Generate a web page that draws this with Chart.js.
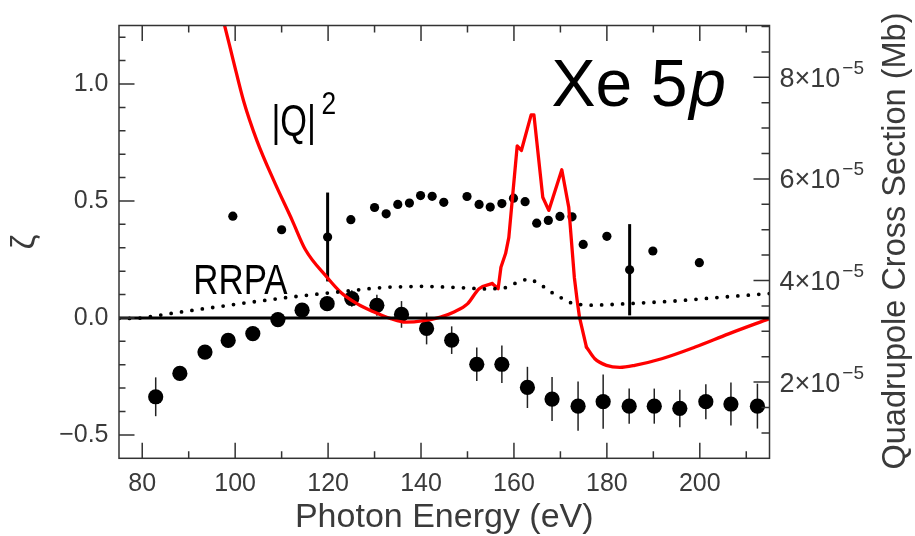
<!DOCTYPE html>
<html>
<head>
<meta charset="utf-8">
<script src="https://cdn.jsdelivr.net/npm/chart.js@4.4.1/dist/chart.umd.min.js"></script>
<style>
  html, body { margin: 0; padding: 0; background: #fff; }
  canvas { display: block; }
</style>
</head>
<body>
<canvas id="chart" width="915" height="536"></canvas>
<script>
// measured zeta (large dots), photon energy in eV
const zetaE   = [82.9, 88.1, 93.5, 98.5, 103.8, 109.2, 114.4, 119.8, 125.1, 130.5, 135.8, 141.2, 146.6,
                 152.0, 157.4, 162.9, 168.2, 173.8, 179.2, 184.8, 190.2, 195.7, 201.3, 206.7, 212.4];
const zetaVal = [-0.337, -0.237, -0.146, -0.096, -0.067, -0.007, 0.033, 0.061, 0.083, 0.054, 0.015, -0.045, -0.095,
                 -0.198, -0.198, -0.297, -0.347, -0.377, -0.358, -0.377, -0.377, -0.387, -0.358, -0.368, -0.377];
const zetaErr = [0.083, 0.03, 0.03, 0.03, 0.03, 0.03, 0.03, 0.03, 0.035, 0.045, 0.057, 0.068, 0.059,
                 0.072, 0.08, 0.088, 0.094, 0.105, 0.116, 0.075, 0.075, 0.08, 0.075, 0.092, 0.096];

// second data set (small dots), two of them with error bars
const smallE   = [99.5, 110.0, 119.9, 124.9, 130.0, 132.5, 135.0, 137.5, 139.9, 142.4, 144.9, 149.9, 152.5,
                  154.9, 157.4, 159.9, 162.4, 164.9, 167.4, 169.9, 172.5, 174.9, 180.0, 184.9, 189.9, 199.9];
const smallVal = [0.435, 0.377, 0.346, 0.420, 0.472, 0.445, 0.485, 0.491, 0.523, 0.520, 0.494, 0.519, 0.485,
                  0.474, 0.489, 0.512, 0.497, 0.405, 0.417, 0.434, 0.432, 0.314, 0.349, 0.206, 0.286, 0.236];
const smallErr = [0, 0, 0.19, 0, 0, 0, 0, 0, 0, 0, 0, 0, 0,
                  0, 0, 0, 0, 0, 0, 0, 0, 0, 0, 0.195, 0, 0];

// RRPA theory (dotted)
const rrpaE   = [75, 78, 80, 84.2, 88.5, 92.8, 97.5, 102, 106.5, 111, 115.5, 119.8, 124.1, 128.8, 133.3, 140,
                 144.3, 149, 153.3, 155.7, 158, 161.2, 163.2, 165.2, 168.7, 172.8, 177.2, 181.7, 188.5, 195.2,
                 201.8, 208.7, 215];
const rrpaVal = [-0.002, -0.002, 0.0, 0.013, 0.026, 0.038, 0.051, 0.064, 0.075, 0.087, 0.097, 0.106, 0.115, 0.125,
                 0.132, 0.135, 0.133, 0.129, 0.124, 0.125, 0.128, 0.156, 0.168, 0.15, 0.101, 0.059, 0.054, 0.058,
                 0.065, 0.073, 0.084, 0.095, 0.104];

// |Q|^2 quadrupole cross section, units of 1e-5 Mb (right axis)
const qE   = [96.6, 97.7, 99.6, 101.8, 104.7, 108.3, 112.3, 115.1, 119.8, 122.7, 126.3, 129.9, 133.5, 136.7,
              140.6, 144.2, 147.1, 150.0, 152.5, 155.3, 156.6, 157.2, 158.2, 158.9, 160.7, 161.6, 163.7, 164.3,
              166.2, 167.5, 170.3, 171.8, 173.0, 173.6, 174.1, 175.6, 177.4, 179.9, 182.8, 186.0, 191.8, 199.0,
              206.2, 215];
const qVal = [9.41, 9.03, 8.33, 7.54, 6.75, 5.97, 5.18, 4.61, 4.06, 3.77, 3.54, 3.38, 3.25, 3.18,
              3.21, 3.28, 3.38, 3.54, 3.84, 3.94, 3.84, 4.26, 4.53, 4.85, 6.65, 6.56, 7.26, 7.26,
              5.64, 5.38, 6.18, 5.44, 4.06, 3.61, 3.28, 2.69, 2.46, 2.33, 2.29, 2.33, 2.46, 2.69,
              2.95, 3.25];
// the resonance part (indices) is drawn with straight segments, the rest smooth
const qSharpFrom = 19, qSharpTo = 35;

// axes
const xTicks = [80, 100, 120, 140, 160, 180, 200];
const xMinor = [90, 110, 130, 150, 170, 190, 210];
const yTicks = [-0.5, 0, 0.5, 1.0];
const rTicks = [2, 4, 6, 8];

const FONT = "'Liberation Sans', Arial, sans-serif";
const TEXT = '#3a3a3a';

const pts = (xs, ys) => xs.map((x, i) => ({ x: x, y: ys[i] }));
const qPts = pts(qE, qVal);

// text squeezed horizontally, the plot's labels are set in a narrow face
function narrowText(ctx, str, px, py, squeeze) {
  ctx.save();
  ctx.translate(px, py);
  ctx.scale(squeeze, 1);
  ctx.fillText(str, 0, 0);
  ctx.restore();
}

const decor = {
  id: 'decor',
  beforeDatasetsDraw(chart) {
    const { ctx, scales: { x, y } } = chart;
    ctx.save();
    ctx.lineCap = 'butt';
    // thin error bars of the large dots
    ctx.strokeStyle = '#222';
    ctx.lineWidth = 1.5;
    zetaE.forEach((e, i) => {
      ctx.beginPath();
      ctx.moveTo(x.getPixelForValue(e), y.getPixelForValue(zetaVal[i] - zetaErr[i]));
      ctx.lineTo(x.getPixelForValue(e), y.getPixelForValue(zetaVal[i] + zetaErr[i]));
      ctx.stroke();
    });
    // thick error bars of the small dots
    ctx.strokeStyle = '#000';
    ctx.lineWidth = 3;
    smallE.forEach((e, i) => {
      if (!smallErr[i]) return;
      ctx.beginPath();
      ctx.moveTo(x.getPixelForValue(e), y.getPixelForValue(smallVal[i] - smallErr[i]));
      ctx.lineTo(x.getPixelForValue(e), y.getPixelForValue(smallVal[i] + smallErr[i]));
      ctx.stroke();
    });
    ctx.restore();
  },
  afterDatasetsDraw(chart) {
    const { ctx, chartArea: a, scales: { x, y, y2 } } = chart;
    ctx.save();
    ctx.strokeStyle = '#333';
    ctx.lineWidth = 1.5;
    ctx.strokeRect(a.left, a.top, a.right - a.left, a.bottom - a.top);

    ctx.beginPath();
    // bottom and top ticks (inward)
    xTicks.concat(xMinor).forEach(v => {
      const px = x.getPixelForValue(v);
      const len = xTicks.includes(v) ? 15.5 : 7;
      ctx.moveTo(px, a.bottom); ctx.lineTo(px, a.bottom - len);
      ctx.moveTo(px, a.top); ctx.lineTo(px, a.top + len);
    });
    // left ticks
    for (let k = -5; k <= 12; k++) {
      const py = y.getPixelForValue(k / 10);
      const len = (k % 5 === 0) ? 15.5 : 6.5;
      ctx.moveTo(a.left, py); ctx.lineTo(a.left + len, py);
    }
    // right ticks
    for (let k = 2; k <= 18; k++) {
      const py = y2.getPixelForValue(k / 2);
      const len = (k % 4 === 0) ? 16 : 8;
      ctx.moveTo(a.right, py); ctx.lineTo(a.right - len, py);
    }
    ctx.stroke();

    // right axis labels  n x 10^-5
    ctx.fillStyle = TEXT;
    ctx.textBaseline = 'alphabetic';
    ctx.textAlign = 'left';
    rTicks.forEach(v => {
      const py = y2.getPixelForValue(v);
      ctx.font = '27px ' + FONT;
      const base = v + '\u00d710';
      ctx.fillText(base, a.right + 10, py + 9.5);
      const w = ctx.measureText(base).width;
      ctx.font = '19px ' + FONT;
      ctx.fillText('\u22125', a.right + 12 + w, py - 3.5);
    });

    // axis titles
    ctx.textAlign = 'center';
    ctx.font = '34px ' + FONT;
    ctx.fillText('Photon Energy (eV)', (a.left + a.right) / 2, 527);

    ctx.save();
    ctx.translate(896, 241);
    ctx.rotate(-Math.PI / 2);
    ctx.textBaseline = 'middle';
    ctx.font = '32.5px ' + FONT;
    ctx.fillText('Quadrupole Cross Section (Mb)', 0, 0);
    ctx.restore();

    ctx.save();
    ctx.translate(25, 242);
    ctx.rotate(-Math.PI / 2);
    ctx.textBaseline = 'middle';
    ctx.font = '34px ' + FONT;
    ctx.fillText('\u03b6', 0, 0);
    ctx.restore();

    // labels inside the plot
    ctx.fillStyle = '#000';
    ctx.textAlign = 'left';
    ctx.textBaseline = 'alphabetic';
    ctx.font = '66px ' + FONT;
    const xe = 'Xe 5';
    const xeX = x.getPixelForValue(168.1), xeY = y.getPixelForValue(0.907);
    ctx.fillText(xe, xeX, xeY);
    const xeW = ctx.measureText(xe).width;
    ctx.font = 'italic 66px ' + FONT;
    ctx.fillText('p', xeX + xeW + 2, xeY);

    ctx.font = '44px ' + FONT;
    narrowText(ctx, '|Q|', x.getPixelForValue(107.8), y.getPixelForValue(0.779), 0.78);
    ctx.font = '31px ' + FONT;
    narrowText(ctx, '2', x.getPixelForValue(118.6), y.getPixelForValue(0.872), 0.85);

    ctx.font = '42px ' + FONT;
    narrowText(ctx, 'RRPA', x.getPixelForValue(91.0), y.getPixelForValue(0.104), 0.83);
    ctx.restore();
  }
};

const redLine = (data, smooth) => ({
  type: 'line', label: '|Q|^2', data: data,
  borderColor: '#ff0000', borderWidth: 3.3, pointRadius: 0, fill: false,
  cubicInterpolationMode: smooth ? 'monotone' : 'default', tension: 0,
  borderJoinStyle: 'round', borderCapStyle: 'round', yAxisID: 'y2'
});

new Chart(document.getElementById('chart'), {
  type: 'scatter',
  data: {
    datasets: [
      {
        type: 'line', label: 'zero', data: pts([75, 215], [0, 0]),
        borderColor: '#000', borderWidth: 3, pointRadius: 0, yAxisID: 'y'
      },
      {
        type: 'line', label: 'RRPA', data: pts(rrpaE, rrpaVal),
        borderColor: '#000', borderWidth: 3.8, borderDash: [0, 10.5], borderCapStyle: 'round',
        pointRadius: 0, fill: false, tension: 0, yAxisID: 'y'
      },
      redLine(qPts.slice(0, qSharpFrom + 1), true),
      redLine(qPts.slice(qSharpFrom, qSharpTo + 1), false),
      redLine(qPts.slice(qSharpTo), true),
      {
        label: 'small', data: pts(smallE, smallVal),
        backgroundColor: '#000', borderWidth: 0, pointRadius: 4.6, yAxisID: 'y'
      },
      {
        label: 'zeta', data: pts(zetaE, zetaVal),
        backgroundColor: '#000', borderWidth: 0, pointRadius: 7.6, yAxisID: 'y'
      }
    ]
  },
  options: {
    responsive: false,
    animation: false,
    layout: { padding: { top: 24.7, left: 0, right: 0, bottom: 0 } },
    plugins: { legend: { display: false }, tooltip: { enabled: false } },
    scales: {
      x: {
        type: 'linear', min: 75, max: 215,
        grid: { display: false, drawTicks: false }, border: { display: false },
        ticks: { color: TEXT, font: { family: FONT, size: 25 }, padding: 11, maxRotation: 0 },
        afterBuildTicks: s => { s.ticks = xTicks.map(v => ({ value: v })); },
        afterFit: s => { s.height = 536 - 458.3; }
      },
      y: {
        type: 'linear', position: 'left', min: -0.6, max: 1.25,
        grid: { display: false, drawTicks: false }, border: { display: false },
        ticks: {
          color: TEXT, font: { family: FONT, size: 25 }, padding: 10.5,
          callback: v => (v < 0 ? '\u2212' + Math.abs(v).toFixed(1) : v.toFixed(1))
        },
        afterBuildTicks: s => { s.ticks = yTicks.map(v => ({ value: v })); },
        afterFit: s => { s.width = 119; }
      },
      y2: {
        type: 'linear', position: 'right', min: 0.5, max: 9.02,
        grid: { display: false, drawTicks: false }, border: { display: false },
        ticks: { display: false },
        afterFit: s => { s.width = 915 - 769.5; }
      }
    }
  },
  plugins: [decor]
});
</script>
</body>
</html>
